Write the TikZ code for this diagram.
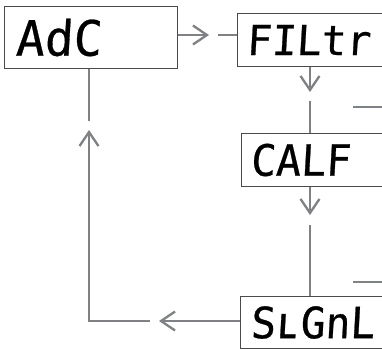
\documentclass[tikz,border=0pt]{standalone}
\usepackage{fontspec}
\newfontfamily\segfont[FakeSlant=0.06,FakeBold=0.6]{DejaVu Sans Mono}
\usetikzlibrary{arrows.meta}
\definecolor{linegray}{HTML}{7F8184}
\definecolor{boxgray}{HTML}{4A4A4A}
\begin{document}
\begin{tikzpicture}[x=1pt,y=-1pt,
  disp/.style={draw=boxgray, line width=1pt, inner sep=0pt, anchor=north west, align=left, fill=white},
  conn/.style={draw=linegray, line width=2.3pt},
  arr/.style={conn, -{Straight Barb[length=14pt,width=19pt]}},
  frag/.style={draw=linegray, line width=1.3pt}]
\useasboundingbox (0,0) rectangle (382,349);
\clip (0,0) rectangle (382,349);
\fill[white] (0,0) rectangle (382,349);
% boxes
\node[disp, text width=173pt, minimum height=62pt] (adc) at (4,6)
  {\hspace*{11pt}\resizebox{86pt}{37pt}{\segfont AdC}};
\node[disp, text width=150pt, minimum height=53pt] (filtr) at (237,13)
  {\hspace*{9pt}\resizebox{124pt}{30pt}{\segfont FILtr}};
\node[disp, text width=146pt, minimum height=53pt] (calf) at (241,133)
  {\hspace*{9pt}\resizebox{100pt}{32pt}{\segfont CALF}};
\node[disp, text width=147pt, minimum height=52pt] (sgnl) at (240,296)
  {\hspace*{10pt}\resizebox{124pt}{32pt}{\segfont SʟGnL}};
% coordinates
\coordinate (t1) at (209,35);
\coordinate (s1) at (218,35);
\coordinate (t2) at (310,92);
\coordinate (s2) at (310,101);
\coordinate (t3) at (310,215);
\coordinate (s3) at (310,225);
\coordinate (t4) at (159,321);
\coordinate (s4) at (150,321);
\coordinate (c4) at (89,321);
\coordinate (t5) at (89,130);
\coordinate (s5) at (89,121);
\coordinate (f1a) at (353,107);
\coordinate (f1b) at (382,107);
\coordinate (f2a) at (353,282);
\coordinate (f2b) at (382,282);
% connectors
\draw[arr] (adc.east |- t1) -- (t1);
\draw[conn] (s1) -- (filtr.west |- s1);
\draw[arr] (filtr.south -| t2) -- (t2);
\draw[conn] (s2) -- (calf.north -| s2);
\draw[arr] (calf.south -| t3) -- (t3);
\draw[conn] (s3) -- (sgnl.north -| s3);
\draw[arr] (sgnl.west |- t4) -- (t4);
\draw[arr] (s4) -- (c4) -- (t5);
\draw[conn] (s5) -- (adc.south -| s5);
\draw[frag] (f1a) -- (f1b);
\draw[frag] (f2a) -- (f2b);
\end{tikzpicture}
\end{document}
